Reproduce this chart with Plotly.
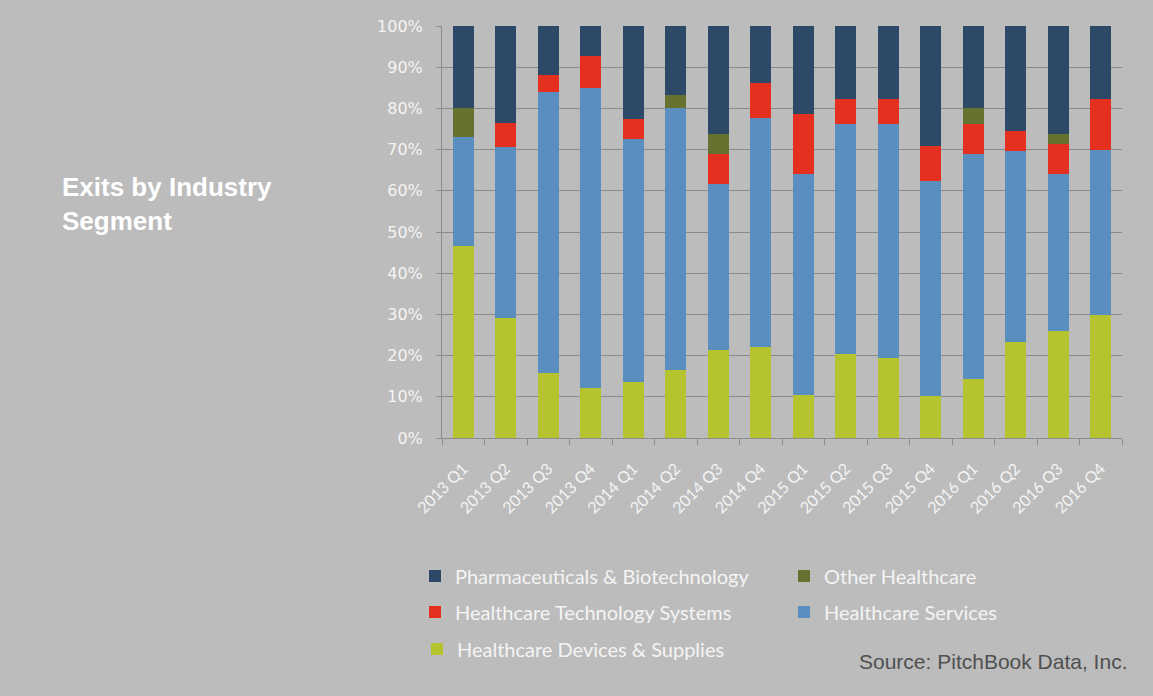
import plotly.graph_objects as go

quarters = ["2013 Q1", "2013 Q2", "2013 Q3", "2013 Q4", "2014 Q1", "2014 Q2", "2014 Q3", "2014 Q4",
            "2015 Q1", "2015 Q2", "2015 Q3", "2015 Q4", "2016 Q1", "2016 Q2", "2016 Q3", "2016 Q4"]

devices = [46.5, 29.2, 15.8, 12.2, 13.5, 16.6, 21.3, 22.1, 10.4, 20.3, 19.4, 10.2, 14.3, 23.2, 25.9, 29.9]
services = [26.6, 41.4, 68.1, 72.8, 59.1, 63.4, 40.4, 55.6, 53.8, 56.0, 56.9, 52.1, 54.6, 46.4, 38.3, 39.9]
tech = [0.0, 5.9, 4.1, 7.6, 4.8, 0.0, 7.2, 8.5, 14.4, 6.1, 6.1, 8.5, 7.4, 4.8, 7.1, 12.6]
other = [7.0, 0.0, 0.0, 0.0, 0.0, 3.3, 4.9, 0.0, 0.0, 0.0, 0.0, 0.0, 3.7, 0.0, 2.5, 0.0]
pharma = [19.9, 23.5, 12.0, 7.4, 22.6, 16.7, 26.2, 13.8, 21.4, 17.6, 17.6, 29.2, 20.0, 25.6, 26.2, 17.6]

y_ticks = [0, 10, 20, 30, 40, 50, 60, 70, 80, 90, 100]
y_tick_labels = ["0%", "10%", "20%", "30%", "40%", "50%", "60%", "70%", "80%", "90%", "100%"]

BG = "#bcbcbc"
series = [
    ("Healthcare Devices & Supplies", devices, "#b5c42e", "legend3", 1),
    ("Healthcare Services", services, "#5a8ebf", "legend2", 2),
    ("Healthcare Technology Systems", tech, "#e6301f", "legend2", 1),
    ("Other Healthcare", other, "#667330", "legend", 2),
    ("Pharmaceuticals & Biotechnology", pharma, "#2c4a68", "legend", 1),
]

fig = go.Figure()
for name, vals, col, lg, rank in series:
    fig.add_trace(go.Bar(
        x=quarters, y=vals, name=name, legend=lg, legendrank=rank,
        marker=dict(color=col, line=dict(width=0)),
        hovertemplate="%{x}: %{y}%<extra>" + name + "</extra>",
    ))

PLOT_L, PLOT_W, PLOT_B, PLOT_H = 442, 680, 438, 412


def px_x(x):
    return (x - PLOT_L) / PLOT_W


def px_y(y):
    return (PLOT_B - y) / PLOT_H


legend_font = dict(family="Lato, 'Open Sans', sans-serif", size=20, color="#f4f4f4")
common_legend = dict(orientation="h", xref="paper", yref="paper", x=px_x(417),
                     xanchor="left", yanchor="middle", bgcolor="rgba(0,0,0,0)",
                     font=legend_font, traceorder="normal", entrywidth=324, itemclick=False)

fig.update_layout(
    width=1153, height=696,
    paper_bgcolor=BG, plot_bgcolor=BG,
    barmode="stack", bargap=0.51,
    margin=dict(l=442, r=31, t=26, b=258),
    legend=dict(common_legend, y=px_y(576)),
    legend2=dict(common_legend, y=px_y(612)),
    legend3=dict(common_legend, y=px_y(649)),
    xaxis=dict(
        tickangle=-45, tickfont=dict(family="Lato, sans-serif", size=16, color="#f4f4f4"),
        showline=True, linecolor="#8c8c8c", linewidth=1,
        ticks="outside", tickson="boundaries", ticklen=6, tickcolor="#8c8c8c",
        ticklabelstandoff=14, showgrid=False,
    ),
    yaxis=dict(
        range=[0, 100], tickvals=y_ticks, ticktext=y_tick_labels,
        tickfont=dict(family="DejaVu Sans, sans-serif", size=16, color="#f4f4f4"),
        showline=True, linecolor="#8c8c8c", linewidth=1,
        ticks="outside", ticklen=5, tickcolor="#8c8c8c", ticklabelstandoff=10,
        showgrid=True, gridcolor="#8a8a8a", gridwidth=1,
        zeroline=False,
    ),
    annotations=[
        dict(text="<b>Exits by Industry<br>Segment</b>", xref="paper", yref="paper",
             x=px_x(60), y=px_y(170), xanchor="left", yanchor="top", align="left",
             showarrow=False, font=dict(family="Liberation Sans, Arial, sans-serif", size=26, color="#ffffff")),
        dict(text="Source: PitchBook Data, Inc.", xref="paper", yref="paper",
             x=px_x(1129), y=px_y(661), xanchor="right", yanchor="middle",
             showarrow=False, font=dict(family="Liberation Sans, Arial, sans-serif", size=21, color="#505050")),
    ],
)

fig.write_html("out.html", config={"displayModeBar": False},
               post_script="document.body.style.margin='0';document.body.style.background='#bcbcbc';")
